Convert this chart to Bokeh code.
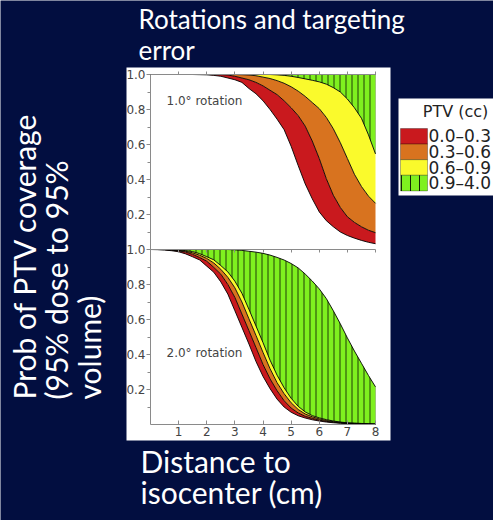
import numpy as np
from math import pi
from bokeh.plotting import figure
from bokeh.models import (Range1d, LinearAxis, FixedTicker, CustomJSTickFormatter,
                          Label, BoxAnnotation)
from bokeh.embed import file_html
from bokeh.resources import INLINE

# ---------------- data ----------------
distance_cm = [0.0, 0.25, 0.5, 0.75, 1.0, 1.25, 1.5, 1.75, 2.0, 2.25, 2.5, 2.75, 3.0, 3.25, 3.5, 3.75,
               4.0, 4.25, 4.5, 4.75, 5.0, 5.25, 5.5, 5.75, 6.0, 6.25, 6.5, 6.75, 7.0, 7.25, 7.5, 7.75, 8.0]

# 1.0 degree rotation: coverage-probability curves bounding each PTV band
rot1_ptv_0_0 = [1.0, 1.0, 1.0, 1.0, 1.0, 1.0, 1.0, 0.999, 0.998, 0.995, 0.99, 0.98, 0.97, 0.955, 0.92, 0.89,
                0.85, 0.80, 0.745, 0.685, 0.59, 0.48, 0.375, 0.29, 0.215, 0.165, 0.13, 0.10, 0.08, 0.065, 0.052, 0.041, 0.033]
rot1_ptv_0_3 = [1.0, 1.0, 1.0, 1.0, 1.0, 1.0, 1.0, 1.0, 1.0, 1.0, 0.999, 0.997, 0.99, 0.98, 0.97, 0.955,
                0.935, 0.91, 0.885, 0.85, 0.81, 0.765, 0.705, 0.62, 0.52, 0.405, 0.31, 0.24, 0.187, 0.155, 0.13, 0.11, 0.096]
rot1_ptv_0_6 = [1.0, 1.0, 1.0, 1.0, 1.0, 1.0, 1.0, 1.0, 1.0, 1.0, 1.0, 1.0, 1.0, 0.999, 0.997, 0.993,
                0.985, 0.977, 0.965, 0.95, 0.93, 0.905, 0.875, 0.84, 0.805, 0.755, 0.69, 0.61, 0.52, 0.43, 0.36, 0.305, 0.264]
rot1_ptv_0_9 = [1.0, 1.0, 1.0, 1.0, 1.0, 1.0, 1.0, 1.0, 1.0, 1.0, 1.0, 1.0, 1.0, 1.0, 1.0, 1.0,
                1.0, 1.0, 0.998, 0.995, 0.99, 0.983, 0.975, 0.967, 0.958, 0.945, 0.925, 0.90, 0.86, 0.81, 0.75, 0.655, 0.546]
rot1_ptv_4_0 = [1.0, 1.0, 1.0, 1.0, 1.0, 1.0, 1.0, 1.0, 1.0, 1.0, 1.0, 1.0, 1.0, 1.0, 1.0, 1.0,
                1.0, 1.0, 1.0, 1.0, 1.0, 1.0, 1.0, 1.0, 1.0, 1.0, 1.0, 1.0, 1.0, 1.0, 1.0, 1.0, 1.0]

# 2.0 degree rotation
rot2_ptv_0_0 = [1.0, 0.999, 0.997, 0.993, 0.987, 0.975, 0.958, 0.94, 0.905, 0.87, 0.815, 0.745, 0.65, 0.555, 0.46, 0.36,
                0.275, 0.205, 0.145, 0.10, 0.07, 0.05, 0.037, 0.027, 0.02, 0.014, 0.01, 0.007, 0.005, 0.004, 0.003, 0.002, 0.001]
rot2_ptv_0_3 = [1.0, 1.0, 0.999, 0.996, 0.992, 0.985, 0.972, 0.954, 0.933, 0.898, 0.859, 0.80, 0.726, 0.631, 0.536, 0.44,
                0.343, 0.261, 0.193, 0.136, 0.094, 0.066, 0.047, 0.035, 0.025, 0.018, 0.013, 0.009, 0.006, 0.0045, 0.0035, 0.0025, 0.0015]
rot2_ptv_0_6 = [1.0, 1.0, 1.0, 0.998, 0.995, 0.99, 0.981, 0.967, 0.949, 0.923, 0.887, 0.841, 0.781, 0.70, 0.604, 0.509,
                0.412, 0.319, 0.239, 0.176, 0.124, 0.086, 0.06, 0.044, 0.032, 0.023, 0.016, 0.012, 0.008, 0.006, 0.0045, 0.0035, 0.0025]
rot2_ptv_0_9 = [1.0, 1.0, 1.0, 0.999, 0.997, 0.994, 0.988, 0.976, 0.959, 0.941, 0.908, 0.872, 0.819, 0.75, 0.658, 0.563,
                0.468, 0.368, 0.282, 0.21, 0.15, 0.104, 0.072, 0.051, 0.038, 0.028, 0.02, 0.014, 0.01, 0.008, 0.006, 0.004, 0.003]
rot2_ptv_4_0 = [1.0, 1.0, 1.0, 1.0, 1.0, 1.0, 1.0, 1.0, 1.0, 1.0, 1.0, 1.0, 0.998, 0.995, 0.99, 0.985,
                0.978, 0.968, 0.955, 0.94, 0.92, 0.895, 0.86, 0.82, 0.775, 0.72, 0.65, 0.575, 0.495, 0.42, 0.35, 0.28, 0.215]

band_labels = ["0.0–0.3", "0.3–0.6", "0.6–0.9", "0.9–4.0"]
band_colors = ["#c9191e", "#d8731f", "#fafa2c", "#7ff01f"]
band_hatch = [None, None, None, "vertical_line"]

y_tick_values = [0.2, 0.4, 0.6, 0.8, 1.0]
x_tick_values = [1, 2, 3, 4, 5, 6, 7, 8]

panel_texts = ["1.0° rotation", "2.0° rotation"]

title_text = "Rotations and targeting\nerror"
y_label_text = "Prob of PTV coverage\n(95% dose to 95%\nvolume)"
x_label_text = "Distance to\nisocenter (cm)"
legend_title = "PTV (cc)"

# ---------------- layout constants (pixels) ----------------
NAVY = "#020e40"
W, H = 493, 520
X0_PX, PX_PER_CM = 150.0, 28.125      # x = 0 cm at 150 px
Y0_PX, PX_PER_P = 424.0, 175.0        # prob 0 (lower panel) at 424 px


def sx(px):
    return (px - X0_PX) / PX_PER_CM


def sy(py):
    return (Y0_PX - py) / PX_PER_P


p = figure(width=W, height=H, output_backend="svg", toolbar_location=None,
           x_axis_type=None, y_axis_type=None,
           min_border_left=0, min_border_right=0, min_border_top=0, min_border_bottom=0,
           x_range=Range1d(sx(0), sx(W)), y_range=Range1d(sy(H), sy(0)))
p.background_fill_color = NAVY
p.border_fill_color = NAVY
p.outline_line_color = None

# white chart card
p.add_layout(BoxAnnotation(left=sx(126), right=sx(390), top=sy(67), bottom=sy(440),
                           fill_color="white", fill_alpha=1.0, line_color=None, level="underlay"))

x = np.array(distance_cm)
panels = [
    (1.0, [rot1_ptv_0_0, rot1_ptv_0_3, rot1_ptv_0_6, rot1_ptv_0_9, rot1_ptv_4_0]),  # upper panel (stacked)
    (0.0, [rot2_ptv_0_0, rot2_ptv_0_3, rot2_ptv_0_6, rot2_ptv_0_9, rot2_ptv_4_0]),  # lower panel
]
for offset, curves in panels:
    for i in range(4):
        lo = np.array(curves[i]) + offset
        hi = np.array(curves[i + 1]) + offset
        kw = dict(fill_color=band_colors[i])
        if band_hatch[i]:
            kw.update(hatch_pattern=band_hatch[i], hatch_scale=6, hatch_weight=1,
                      hatch_color="black", hatch_alpha=0.75)
        p.varea(x=x, y1=lo, y2=hi, **kw)
    for c in curves:
        p.line(x, np.array(c) + offset, line_color="black", line_width=0.9)

# ---------------- axes ----------------
AX = "#8a8a8a"
LBL = "#444444"
y_ticks = [v for v in y_tick_values] + [1.0 + v for v in y_tick_values]
y_minor = [round(0.1 * k, 1) for k in range(1, 20, 2)]
yax = LinearAxis(fixed_location=0.0, bounds=(0, 2),
                 ticker=FixedTicker(ticks=y_ticks, minor_ticks=y_minor),
                 formatter=CustomJSTickFormatter(code="return (tick > 1.0001 ? tick - 1 : tick).toFixed(1)"))
yax.axis_line_color = AX
yax.major_tick_line_color = AX
yax.minor_tick_line_color = AX
yax.major_tick_out = 4
yax.major_tick_in = 0
yax.minor_tick_out = 3
yax.minor_tick_in = 0
yax.major_label_standoff = 1
yax.major_label_text_font = "DejaVu Sans"
yax.major_label_text_font_size = "12px"
yax.major_label_text_color = LBL
p.add_layout(yax, "left")

xax = LinearAxis(fixed_location=0.0, bounds=(0, 8), ticker=FixedTicker(ticks=x_tick_values))
xax.axis_line_color = AX
xax.major_tick_line_color = AX
xax.major_tick_in = 4
xax.major_tick_out = 0
xax.minor_tick_line_color = None
xax.major_label_standoff = 2
xax.major_label_text_font = "DejaVu Sans"
xax.major_label_text_font_size = "12px"
xax.major_label_text_color = LBL
p.add_layout(xax, "below")

for loc, tin, tout in [(2.0, 0, 3), (1.0, 3, 0)]:
    tax = LinearAxis(fixed_location=loc, bounds=(0, 8), ticker=FixedTicker(ticks=x_tick_values))
    tax.axis_line_color = AX
    tax.major_tick_line_color = AX
    tax.major_tick_in = tin
    tax.major_tick_out = tout
    tax.minor_tick_line_color = None
    tax.major_label_text_font_size = "0px"
    tax.major_label_text_alpha = 0
    p.add_layout(tax, "above")

# ---------------- texts ----------------
for txt, ypos in zip(panel_texts, [sy(100), sy(352)]):
    p.add_layout(Label(x=sx(166), y=ypos, text=txt, text_font="DejaVu Sans", text_font_size="12px",
                       text_color=LBL, text_baseline="middle", text_align="left"))

p.add_layout(Label(x=138, y=H - 2, x_units="screen", y_units="screen", text=title_text,
                   text_font="Lato", text_font_size="26px", text_color="white",
                   text_baseline="top", text_align="left", text_line_height=0.98))
p.add_layout(Label(x=5, y=H - 399, x_units="screen", y_units="screen", text=y_label_text,
                   angle=pi / 2, text_font="Lato", text_font_size="30px", text_color="white",
                   text_baseline="top", text_align="left", text_line_height=0.91))
p.add_layout(Label(x=140, y=H - 442, x_units="screen", y_units="screen", text=x_label_text,
                   text_font="Lato", text_font_size="30px", text_color="white",
                   text_baseline="top", text_align="left", text_line_height=0.88))

# ---------------- legend (white box, title, swatches, labels) ----------------
p.add_layout(BoxAnnotation(left=sx(398), right=sx(493), top=sy(98), bottom=sy(195),
                           fill_color="white", fill_alpha=1.0, line_color=None, level="underlay"))
p.add_layout(Label(x=455, y=H - 101, x_units="screen", y_units="screen", text=legend_title,
                   text_font="DejaVu Sans", text_font_size="16px", text_color="#222222",
                   text_baseline="top", text_align="center"))
ROW0, ROW_H = 128.0, 15.6
for i, (lab, col, hat) in enumerate(zip(band_labels, band_colors, band_hatch)):
    top = ROW0 + ROW_H * i
    kw = dict(fill_color=col, fill_alpha=1.0, line_color="black", line_width=1, level="annotation")
    if hat:
        kw.update(hatch_pattern=hat, hatch_scale=9, hatch_weight=1, hatch_color="black", hatch_alpha=0.85)
    p.add_layout(BoxAnnotation(left=sx(400), right=sx(427), top=sy(top), bottom=sy(top + ROW_H), **kw))
    p.add_layout(Label(x=428, y=H - (top + ROW_H / 2), x_units="screen", y_units="screen", text=lab,
                       text_font="DejaVu Sans", text_font_size="17px", text_color="#222222",
                       text_baseline="middle", text_align="left"))

open("out.html", "w").write(file_html(p, INLINE))
